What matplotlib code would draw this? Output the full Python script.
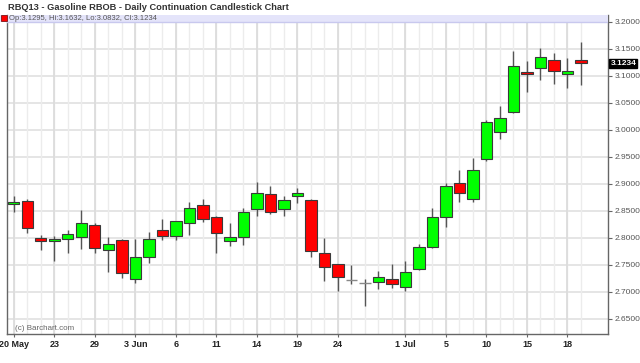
import matplotlib.pyplot as plt
from matplotlib.patches import Rectangle
import pandas as pd

# trading days (Memorial Day and 4 July closed)
dates = pd.bdate_range('2013-05-20', '2013-07-19').drop(pd.to_datetime(['2013-05-27', '2013-07-04']))

opens = [2.862, 2.868, 2.799, 2.794, 2.798, 2.801, 2.824, 2.778, 2.797, 2.724,
         2.765, 2.814, 2.803, 2.828, 2.861, 2.838, 2.794, 2.801, 2.854, 2.881,
         2.854, 2.878, 2.870, 2.772, 2.751, 2.723, 2.716, 2.719, 2.724, 2.709,
         2.742, 2.783, 2.838, 2.901, 2.872, 2.947, 2.996, 3.034, 3.107, 3.115,
         3.130, 3.103, 3.1295]
highs = [2.878, 2.872, 2.806, 2.803, 2.814, 2.852, 2.827, 2.802, 2.798, 2.798,
         2.811, 2.835, 2.832, 2.867, 2.872, 2.840, 2.828, 2.855, 2.903, 2.897,
         2.877, 2.893, 2.872, 2.799, 2.752, 2.749, 2.724, 2.738, 2.751, 2.757,
         2.789, 2.855, 2.901, 2.925, 2.948, 3.019, 3.045, 3.147, 3.128, 3.151,
         3.142, 3.134, 3.1632]
lows = [2.848, 2.810, 2.777, 2.757, 2.772, 2.780, 2.772, 2.736, 2.726, 2.717,
        2.753, 2.797, 2.797, 2.806, 2.830, 2.772, 2.785, 2.786, 2.841, 2.844,
        2.840, 2.865, 2.764, 2.721, 2.701, 2.715, 2.674, 2.706, 2.708, 2.701,
        2.741, 2.782, 2.820, 2.867, 2.867, 2.943, 2.983, 3.032, 3.071, 3.093,
        3.085, 3.078, 3.0832]
closes = [2.867, 2.819, 2.794, 2.798, 2.807, 2.828, 2.782, 2.788, 2.735, 2.764,
          2.798, 2.804, 2.8315, 2.855, 2.835, 2.809, 2.801, 2.848, 2.883, 2.848,
          2.870, 2.883, 2.776, 2.746, 2.727, 2.723, 2.716, 2.727, 2.714, 2.736,
          2.783, 2.838, 2.896, 2.883, 2.926, 3.015, 3.022, 3.118, 3.104, 3.135,
          3.110, 3.110, 3.1234]

tick_dates = ['2013-05-20', '2013-05-23', '2013-05-29', '2013-06-03', '2013-06-06',
              '2013-06-11', '2013-06-14', '2013-06-19', '2013-06-24', '2013-07-01',
              '2013-07-05', '2013-07-10', '2013-07-15', '2013-07-18']
tick_labels = ['20 May', '23', '29', '3 Jun', '6', '11', '14', '19', '24', '1 Jul',
               '5', '10', '15', '18']
price_ticks = [2.65, 2.70, 2.75, 2.80, 2.85, 2.90, 2.95, 3.00, 3.05, 3.10, 3.15, 3.20]

plt.rcParams['font.family'] = ['Liberation Sans', 'DejaVu Sans']

fig = plt.figure(figsize=(6.4, 3.63), dpi=100)
ax = fig.add_axes([0.011, 0.080, 0.939, 0.879])

x = list(range(len(dates)))
tick_pos = [list(dates.strftime('%Y-%m-%d')).index(d) for d in tick_dates]

# grid
for p in price_ticks:
    ax.axhline(p, color='#e3e3e3', lw=1.3, zorder=0)
for i in x:
    ax.axvline(i, color='#ececec', lw=1.0, zorder=0)
for i in tick_pos:
    ax.axvline(i, color='#dcdcdc', lw=1.3, zorder=0)

# candles
for i in x:
    o, h, l, c = opens[i], highs[i], lows[i], closes[i]
    ax.vlines(i, l, h, color='#555555', lw=1.0, zorder=2)
    col = '#00ff00' if c > o else '#ff0000'
    if abs(c - o) < 0.0015:
        ax.hlines((o + c) / 2, i - 0.42, i + 0.42, color='#888888', lw=1.0, zorder=3)
    else:
        ax.bar(i, abs(c - o), bottom=min(o, c), width=0.84, color=col,
               edgecolor='#3a3a3a', linewidth=0.8, zorder=3)

ax.set_xlim(-0.5, 44.0)
ax.set_ylim(2.6222, 3.213)

# header band with last bar values
band = Rectangle((-0.013, 3.2), 1.013, 0.013, transform=ax.get_yaxis_transform(),
                 fc='#e4e4fa', ec='none', zorder=4, clip_on=False)
ax.add_patch(band)
ax.axhline(3.2, color='#c8c8ee', lw=1.0, zorder=4)
ax.plot([-0.72], [3.2065], marker='s', ms=4.2, color='#ff0000', mec='#660000', mew=0.5,
        zorder=5, clip_on=False)
ax.text(-0.32, 3.2065, 'Op:%.4f, Hi:%.4f, Lo:%.4f, Cl:%.4f' % (opens[-1], highs[-1], lows[-1], closes[-1]),
        fontsize=5.5, color='#555555', va='center', ha='left', zorder=5)

ax.yaxis.tick_right()
ax.set_yticks(price_ticks)
ax.set_yticklabels(['%.4f' % p for p in price_ticks])
ax.tick_params(axis='y', direction='out', length=3, color='#666666', labelsize=6,
               labelcolor='#555555', pad=1.5)
ax.set_xticks(tick_pos)
ax.set_xticklabels(tick_labels, fontweight='bold')
ax.tick_params(axis='x', direction='out', length=2, color='#666666', labelsize=6.5,
               labelcolor='#222222', pad=2)

for s in ['left', 'bottom', 'right']:
    ax.spines[s].set_color('#666666')
    ax.spines[s].set_linewidth(1.0)
ax.spines['top'].set_visible(False)

# last close marker on the price axis
ax.text(1.004, closes[-1], '%.4f' % closes[-1], transform=ax.get_yaxis_transform(),
        fontsize=6, color='white', fontweight='bold', va='center', ha='left',
        bbox=dict(boxstyle='square,pad=0.12', fc='black', ec='black'), zorder=6)

ax.text(0.1, 2.632, '(c) Barchart.com', fontsize=5.8, color='#666666', va='center', ha='left')

fig.text(0.012, 0.978, 'RBQ13 - Gasoline RBOB - Daily Continuation Candlestick Chart',
         fontsize=6.7, fontweight='bold', color='#333333', va='center', ha='left')

fig.savefig('out.png', dpi=100)
